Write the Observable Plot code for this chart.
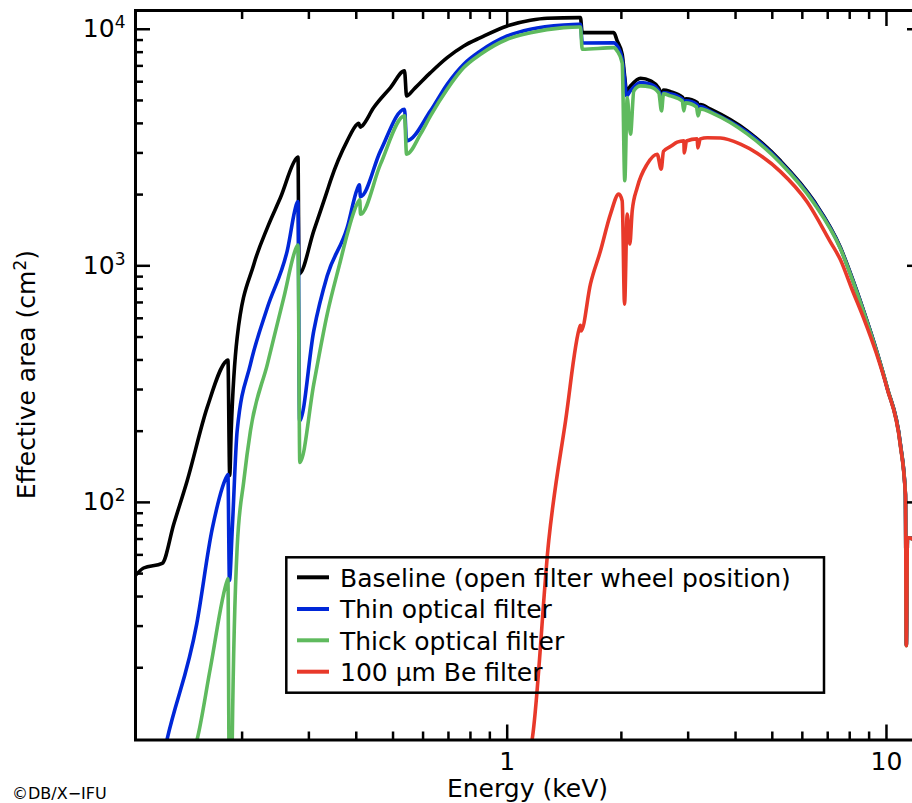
<!DOCTYPE html>
<html>
<head>
<meta charset="utf-8">
<script src="https://cdn.jsdelivr.net/npm/d3@7"></script>
<script src="https://cdn.jsdelivr.net/npm/@observablehq/plot@0.6"></script>
<style>
  html, body { margin: 0; padding: 0; overflow: hidden; background: #fff; }
  #wrap { position: relative; width: 912px; height: 803px; overflow: hidden; }
  #wrap svg { max-width: none !important; width: 930px !important; height: 803px !important; }
</style>
</head>
<body>
<div id="wrap"></div>
<script>
// ---------- data (energy in keV, effective area in cm^2) ----------
const seriesNames = [
  "Baseline (open filter wheel position)",
  "Thin optical filter",
  "Thick optical filter",
  "100 \u00b5m Be filter"
];
const seriesColors = ["#000000", "#0027d8", "#5fba5e", "#e8392a"];

const baselineE = [0.1036,0.110,0.1231,0.1321,0.1433,0.1618,0.1820,0.1835,0.1855,0.1872,0.1941,0.2148,0.2332,0.2525,0.2795,0.2808,0.2826,0.3090,0.3353,0.3420,0.3786,0.4023,0.4060,0.4100,0.4147,0.4447,0.4924,0.5361,0.5428,0.5674,0.6277,0.6947,0.7683,0.8504,1.0,1.152,1.275,1.545,1.560,1.577,1.91,1.95,2.01,2.042,2.063,2.114,2.246,2.388,2.51,2.552,2.583,2.695,2.90,2.93,2.96,3.17,3.20,3.23,3.436,4.293,5.254,6.433,7.562,8.10,8.71,9.40,10.04,10.88,11.22,11.28,11.36,12.4];
const baselineA = [48.2,52.8,55.2,81,123.5,252,397,400,130,201,498,1016,1451,1943,2868,2880,923,1406,2074,2287,3375,3968,4000,3850,3905,4666,5667,6668,5226,5579,6554,7586,8501,9216,10326,10916,11130,11194,11194,9674,9674,8925,7839,6246,5486,5757,6209,6048,5633,5300,5530,5450,5150,4950,5080,4898,4700,4800,4592,3718,2778,1882,1195,898,644,442,306,177,108.5,25,71,67];

const thinE = [0.1240,0.1269,0.1518,0.1668,0.1827,0.1835,0.1852,0.1884,0.1941,0.2104,0.2332,0.2630,0.2795,0.2808,0.2835,0.3090,0.3353,0.3786,0.4023,0.4075,0.4104,0.4634,0.5361,0.5428,0.6277,0.6947,0.7683,0.8504,1.0,1.152,1.41,1.545,1.560,1.577,1.91,1.95,2.01,2.042,2.063,2.114,2.246,2.388,2.51,2.552,2.583,2.695,2.90,2.93,2.96,3.17,3.20,3.23,3.436,4.293,5.254,6.433,7.562,8.10,8.71,9.40,10.04,10.88,11.22,11.28,11.36,12.4];
const thinA = [8.5,10,30.6,77.2,129.7,131,46.7,77.2,201,384,666,1157,1851,1870,221,531,907,1451,2109,2200,1960,3061,4592,3375,4518,5856,7116,8094,9369,10000,10424,10500,10500,8752,8760,8501,7470,6049,5226,5500,5948,5850,5480,5150,5380,5330,5050,4850,4980,4800,4600,4710,4500,3670,2750,1865,1188,893,641,440,305,176,108,25,71,67];

const thickE = [0.1480,0.1523,0.1651,0.1827,0.1835,0.1850,0.1880,0.1884,0.1941,0.2021,0.2104,0.2332,0.2576,0.2795,0.2808,0.2839,0.3090,0.3353,0.3634,0.3786,0.4062,0.4085,0.4104,0.4634,0.5361,0.5428,0.5907,0.6277,0.6947,0.7683,0.8504,1.0,1.152,1.41,1.545,1.560,1.577,1.91,1.95,2.01,2.042,2.072,2.114,2.157,2.246,2.388,2.51,2.552,2.583,2.695,2.894,2.922,2.951,3.156,3.184,3.23,3.505,4.293,5.254,6.433,7.562,8.10,8.71,9.40,10.04,10.88,11.22,11.28,11.36,12.4];
const thickA = [8.5,10,20.1,46.7,47.5,7,7,10,64.6,123.5,201,384,734,1215,1225,147.6,316,625,1050,1361,1882,1900,1654,2690,4302,2964,3601,4302,5579,6883,7839,9074,9674,10157,10226,10226,8231,8361,8094,7204,2287,5142,3601,5486,5760,5704,5383,4518,5330,5226,4979,4518,4883,4694,4302,4606,4387,3612,2723,1845,1180,888,638,438,306,175,108,24.8,71,66];

const beE = [1.130,1.164,1.287,1.425,1.556,1.560,1.566,1.658,1.762,1.872,1.969,2.010,2.039,2.072,2.105,2.136,2.202,2.339,2.486,2.547,2.583,2.700,2.807,2.922,2.930,2.970,3.170,3.180,3.230,3.368,3.651,4.122,4.561,5.254,6.180,7.118,7.562,8.10,8.71,9.40,10.04,10.88,11.22,11.28,11.36,12.4];
const beA = [8,10,69,221,555,560,530,839,1157,1654,2009,1882,689,1654,1236,1707,2142,2690,2964,2562,3050,3200,3330,3375,3001,3370,3440,3152,3440,3480,3470,3266,2990,2500,1860,1260,1060,800,600,428,303,174,107,24.8,71,66];

// axis ticks
const xMajorTicks = [1, 10];
const xMajorLabels = ["1", "10"];
const xMinorTicks = [0.2,0.3,0.4,0.5,0.6,0.7,0.8,0.9,2,3,4,5,6,7,8,9];
const yMajorTicks = [100, 1000, 10000];
const yMajorExponents = ["2", "3", "4"];
const yMinorTicks = [20,30,40,50,60,70,80,90,200,300,400,500,600,700,800,900,2000,3000,4000,5000,6000,7000,8000,9000];

// ---------- build tables ----------
const zip = (E, A, s) => E.map((e, i) => ({E: e, A: A[i], series: s}));
const tables = [
  zip(baselineE, baselineA, seriesNames[0]),
  zip(thinE, thinA, seriesNames[1]),
  zip(thickE, thickA, seriesNames[2]),
  zip(beE, beA, seriesNames[3])
];

const font = "DejaVu Sans";
const fs = 25;
const supFs = 17;
const tickW = 2.5;

const lineMarks = tables.map((t, i) =>
  Plot.line(t, {x: "E", y: "A", stroke: seriesColors[i], strokeWidth: 3.6, clip: true,
                curve: "monotone-x"})
);

const chart = Plot.plot({
  width: 930,
  height: 803,
  marginLeft: 135,
  marginRight: 9,
  marginTop: 10,
  marginBottom: 63.5,
  x: {type: "log", domain: [0.1047, 12.37], axis: null},
  y: {type: "log", domain: [9.9, 12000], axis: null},
  style: {fontFamily: font, fontSize: fs + "px", color: "black", background: "white", overflow: "visible", maxWidth: "none"},
  marks: [
    ...lineMarks,
    Plot.frame({stroke: "black", strokeWidth: 3}),
    // bottom
    Plot.axisX({anchor: "bottom", ticks: xMajorTicks, tickSize: -15, tickPadding: 27.5,
                tickFormat: d => xMajorLabels[xMajorTicks.indexOf(d)], strokeWidth: tickW, fontSize: fs, label: null}),
    Plot.axisX({anchor: "bottom", ticks: xMinorTicks, tickSize: -8, tickFormat: () => "", fill: "none", strokeWidth: tickW, label: null}),
    // top
    Plot.axisX({anchor: "top", ticks: xMajorTicks, tickSize: -15, tickFormat: () => "", fill: "none", strokeWidth: tickW, label: null}),
    Plot.axisX({anchor: "top", ticks: xMinorTicks, tickSize: -8, tickFormat: () => "", fill: "none", strokeWidth: tickW, label: null}),
    // left
    Plot.axisY({anchor: "left", ticks: yMajorTicks, tickSize: -15, tickPadding: 25,
                tickFormat: d => "10^" + yMajorExponents[yMajorTicks.indexOf(d)], strokeWidth: tickW, fontSize: fs, label: null}),
    Plot.axisY({anchor: "left", ticks: yMinorTicks, tickSize: -8, tickFormat: () => "", fill: "none", strokeWidth: tickW, label: null}),
    // right
    Plot.axisY({anchor: "right", ticks: yMajorTicks, tickSize: -15, tickFormat: () => "", fill: "none", strokeWidth: tickW, label: null}),
    Plot.axisY({anchor: "right", ticks: yMinorTicks, tickSize: -8, tickFormat: () => "", fill: "none", strokeWidth: tickW, label: null})
  ]
});

document.getElementById("wrap").appendChild(chart);

const svg = d3.select(chart);

// turn "10^n" tick labels into 10 with a raised exponent
svg.selectAll("text").each(function() {
  const t = d3.select(this);
  const s = t.text();
  const m = /^10\^(\d)$/.exec(s);
  if (m) {
    t.text("");
    t.append("tspan").text("10");
    t.append("tspan").attr("font-size", supFs).attr("dy", -9).text(m[1]);
  }
});

// ---------- titles, legend, credit ----------
const yTitle = svg.append("text")
  .attr("transform", "translate(27,374.6) rotate(-90)")
  .attr("text-anchor", "middle").attr("dy", "0.32em")
  .attr("font-family", font).attr("font-size", fs).attr("fill", "black");
yTitle.append("tspan").text("Effective area (cm");
yTitle.append("tspan").attr("font-size", supFs).attr("dy", -9).text("2");
yTitle.append("tspan").attr("dy", 9).text(")");

svg.append("text")
  .attr("x", 527.5).attr("y", 796.5)
  .attr("text-anchor", "middle")
  .attr("font-family", font).attr("font-size", fs).attr("fill", "black")
  .text("Energy (keV)");

svg.append("text")
  .attr("x", 12).attr("y", 799)
  .attr("text-anchor", "start")
  .attr("font-family", font).attr("font-size", 16).attr("fill", "black")
  .text("\u00a9DB/X\u2212IFU");

const lg = svg.append("g");
lg.append("rect")
  .attr("x", 286.3).attr("y", 557.3).attr("width", 537.7).attr("height", 135.4)
  .attr("fill", "none").attr("stroke", "black").attr("stroke-width", 2.5);
const rowY = [577.3, 609, 640.3, 671.7];
seriesNames.forEach((name, i) => {
  lg.append("line")
    .attr("x1", 297).attr("x2", 329).attr("y1", rowY[i]).attr("y2", rowY[i])
    .attr("stroke", seriesColors[i]).attr("stroke-width", 4);
  lg.append("text")
    .attr("x", 340).attr("y", rowY[i] + 9.4)
    .attr("text-anchor", "start")
    .attr("font-family", font).attr("font-size", fs).attr("fill", "black")
    .text(name);
});
</script>
</body>
</html>
